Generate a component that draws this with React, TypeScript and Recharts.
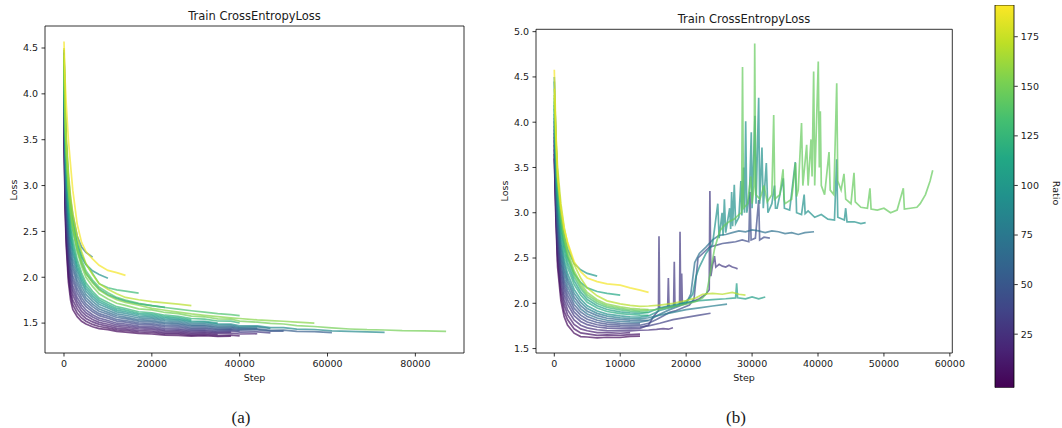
import { LineChart, Line, XAxis, YAxis, ReferenceArea, BarChart, Bar } from "recharts";

const FONT = "DejaVu Sans";

// viridis colormap stops and the colorbar range
const VIRIDIS = ["#440154", "#482475", "#414487", "#355f8d", "#2a788e", "#21918c", "#22a884", "#44bf70", "#7ad151", "#bddf26", "#fde725"];
const RATIO_MIN = -2;
const RATIO_MAX = 191;
const CBAR_TICKS = [25, 50, 75, 100, 125, 150, 175];

// ---- panel (a) ----
const STEPS_A = [0, 250, 500, 1000, 1500, 2000, 3000, 4000, 5000, 6500, 8000, 10000, 12000, 14000, 17000, 20000, 23000, 26000, 29000, 32000, 35000, 38000, 40000, 44000, 47000, 50000, 53000, 57000, 61000, 65000, 69000, 73000, 77000, 82000, 87000];
const RATIO_A = [2, 7, 12, 17, 23, 30, 38, 46, 55, 64, 74, 80, 88, 96, 100, 104, 112, 124, 128, 136, 150, 156, 170, 188];
const LOSS_A = [
  [3.62, 2.75, 2.35, 1.95, 1.75, 1.65, 1.57, 1.52, 1.49, 1.46, 1.44, 1.428, 1.41, 1.402, 1.388, 1.381, 1.368, 1.366, 1.358, 1.362, 1.354, 1.357],
  [3.66, 2.81, 2.41, 2.01, 1.81, 1.7, 1.61, 1.556, 1.521, 1.486, 1.463, 1.448, 1.426, 1.421, 1.403, 1.399, 1.382, 1.383, 1.37, 1.375, 1.364, 1.369, 1.361],
  [3.71, 2.86, 2.48, 2.07, 1.86, 1.75, 1.655, 1.592, 1.551, 1.513, 1.486, 1.468, 1.443, 1.438, 1.418, 1.414, 1.397, 1.396, 1.383, 1.388, 1.376],
  [3.75, 2.92, 2.54, 2.13, 1.92, 1.81, 1.7, 1.628, 1.582, 1.539, 1.508, 1.488, 1.462, 1.455, 1.436, 1.43, 1.412, 1.41, 1.397, 1.4, 1.387, 1.391, 1.381, 1.384],
  [3.8, 2.98, 2.6, 2.19, 1.98, 1.86, 1.74, 1.664, 1.612, 1.566, 1.531, 1.509, 1.48, 1.473, 1.451, 1.446, 1.427, 1.424, 1.41, 1.412, 1.399, 1.402],
  [3.84, 3.04, 2.67, 2.25, 2.04, 1.91, 1.78, 1.7, 1.643, 1.592, 1.554, 1.529, 1.499, 1.49, 1.467, 1.462, 1.441, 1.438, 1.423, 1.425, 1.41, 1.414, 1.402, 1.404, 1.393],
  [3.89, 3.1, 2.74, 2.32, 2.1, 1.97, 1.83, 1.742, 1.679, 1.623, 1.581, 1.553, 1.521, 1.51, 1.486, 1.48, 1.459, 1.455, 1.438, 1.44, 1.424, 1.426, 1.414],
  [3.93, 3.16, 2.8, 2.38, 2.16, 2.02, 1.875, 1.778, 1.709, 1.649, 1.603, 1.573, 1.539, 1.528, 1.502, 1.496, 1.474, 1.47, 1.451, 1.452, 1.435, 1.438, 1.424, 1.426, 1.412, 1.413],
  [3.99, 3.23, 2.88, 2.45, 2.23, 2.09, 1.925, 1.82, 1.745, 1.68, 1.63, 1.597, 1.561, 1.548, 1.521, 1.514, 1.491, 1.486, 1.466, 1.467, 1.449, 1.451, 1.435, 1.437, 1.421, 1.423, 1.409, 1.408, 1.396],
  [4.03, 3.28, 2.94, 2.51, 2.28, 2.14, 1.97, 1.856, 1.776, 1.706, 1.653, 1.617, 1.58, 1.566, 1.537, 1.53, 1.506, 1.5, 1.479, 1.478, 1.46, 1.462, 1.446, 1.446],
  [4.08, 3.35, 3.01, 2.58, 2.35, 2.2, 2.02, 1.898, 1.811, 1.737, 1.679, 1.64, 1.601, 1.586, 1.556, 1.548, 1.524, 1.516, 1.495, 1.493, 1.474, 1.475, 1.457, 1.458, 1.441],
  [4.48, 3.85, 3.5, 3.1, 2.85, 2.68, 2.45, 2.33, 2.27, 2.22],
  [4.13, 3.42, 3.09, 2.65, 2.42, 2.26, 2.07, 1.94, 1.847, 1.768, 1.706, 1.664, 1.623, 1.606, 1.575, 1.566, 1.541, 1.533, 1.51, 1.507, 1.488, 1.488, 1.469, 1.469, 1.451, 1.451, 1.434, 1.43, 1.416, 1.41, 1.404, 1.398],
  [4.45, 3.8, 3.45, 3.02, 2.76, 2.58, 2.36, 2.22, 2.14, 2.07, 2.03, 1.99],
  [4.18, 3.47, 3.15, 2.71, 2.47, 2.31, 2.11, 1.976, 1.878, 1.794, 1.729, 1.684, 1.642, 1.624, 1.591, 1.582, 1.556, 1.547, 1.523, 1.519, 1.5],
  [4.3, 3.65, 3.3, 2.92, 2.68, 2.52, 2.3, 2.15, 2.04, 1.95, 1.87, 1.81, 1.77, 1.74, 1.71, 1.69, 1.672],
  [4.22, 3.53, 3.21, 2.77, 2.53, 2.36, 2.15, 2.012, 1.908, 1.821, 1.752, 1.704, 1.66, 1.641, 1.607, 1.597, 1.571, 1.561, 1.536],
  [4.26, 3.59, 3.27, 2.83, 2.59, 2.42, 2.195, 2.048, 1.939, 1.847, 1.774, 1.724, 1.679, 1.659, 1.624, 1.613, 1.586, 1.575, 1.55, 1.543, 1.523, 1.521, 1.501],
  [4.4, 3.8, 3.45, 3.05, 2.8, 2.63, 2.4, 2.25, 2.14, 2.04, 1.93, 1.885, 1.862, 1.848, 1.826],
  [4.4, 3.78, 3.42, 3.0, 2.76, 2.58, 2.34, 2.19, 2.07, 1.97, 1.89, 1.83, 1.78, 1.75, 1.715, 1.69, 1.67, 1.652, 1.635, 1.62, 1.604, 1.593, 1.582],
  [4.35, 3.7, 3.35, 2.95, 2.7, 2.52, 2.28, 2.12, 2.0, 1.9, 1.82, 1.764, 1.716, 1.694, 1.656, 1.644, 1.616, 1.604, 1.576, 1.569, 1.546, 1.543, 1.521, 1.51, 1.497, 1.49, 1.472, 1.463, 1.448, 1.436, 1.428, 1.425, 1.418, 1.416, 1.41],
  [4.42, 3.75, 3.4, 2.98, 2.74, 2.56, 2.32, 2.16, 2.04, 1.94, 1.86, 1.8, 1.755, 1.726, 1.695, 1.66, 1.64, 1.62, 1.6, 1.585, 1.57, 1.558, 1.55, 1.535, 1.527, 1.52, 1.51, 1.5],
  [4.5, 3.9, 3.55, 3.15, 2.88, 2.7, 2.45, 2.28, 2.15, 2.03, 1.93, 1.87, 1.82, 1.78, 1.755, 1.735, 1.72, 1.706, 1.69],
  [4.57, 4.15, 3.9, 3.5, 3.22, 2.95, 2.58, 2.38, 2.28, 2.2, 2.13, 2.075, 2.05, 2.02],
];

// ---- panel (b) ----
const STEPS_B = [0, 250, 500, 1000, 1500, 2000, 3000, 4000, 5000, 6500, 8000, 10000, 11500, 13000, 14300];
const RATIO_B = [2, 8, 14, 24, 30, 36, 42, 50, 62, 70, 80, 95, 100, 105, 112, 118, 130, 145, 155, 170, 188];
const LOSS_B = [
  [3.6, 2.9, 2.4, 2.03, 1.85, 1.76, 1.67, 1.632, 1.628, 1.618, 1.625, 1.622, 1.634, 1.638],
  [3.65, 2.96, 2.47, 2.1, 1.91, 1.82, 1.718, 1.673, 1.662, 1.646, 1.651, 1.645, 1.655, 1.66],
  [3.7, 3.02, 2.54, 2.17, 1.98, 1.875, 1.767, 1.717, 1.697, 1.676, 1.677, 1.669, 1.676],
  [3.75, 3.08, 2.61, 2.23, 2.04, 1.93, 1.815, 1.758, 1.729, 1.708, 1.699, 1.695, 1.696, 1.702],
  [3.8, 3.14, 2.68, 2.3, 2.1, 1.99, 1.863, 1.799, 1.764, 1.738, 1.725, 1.719, 1.718, 1.723],
  [3.84, 3.19, 2.74, 2.36, 2.16, 2.04, 1.905, 1.834, 1.793, 1.763, 1.747, 1.739, 1.737, 1.74],
  [3.88, 3.24, 2.8, 2.42, 2.21, 2.09, 1.946, 1.869, 1.823, 1.788, 1.769, 1.759, 1.756, 1.758],
  [3.92, 3.29, 2.86, 2.48, 2.26, 2.14, 1.987, 1.904, 1.853, 1.813, 1.791, 1.779, 1.775, 1.776],
  [4.01, 3.39, 2.98, 2.59, 2.37, 2.24, 2.07, 1.974, 1.912, 1.864, 1.835, 1.819, 1.813, 1.811, 1.812],
  [3.96, 3.34, 2.92, 2.53, 2.32, 2.19, 2.029, 1.939, 1.882, 1.838, 1.813, 1.799, 1.794, 1.793],
  [4.05, 3.44, 3.04, 2.65, 2.43, 2.28, 2.112, 2.009, 1.942, 1.889, 1.858, 1.839, 1.832, 1.829],
  [4.09, 3.5, 3.1, 2.71, 2.48, 2.33, 2.153, 2.045, 1.972, 1.914, 1.88, 1.86, 1.85, 1.847],
  [4.5, 3.8, 3.4, 3.0, 2.75, 2.6, 2.44, 2.37, 2.33, 2.3],
  [4.19, 3.61, 3.24, 2.84, 2.61, 2.45, 2.25, 2.126, 2.041, 1.973, 1.931, 1.906, 1.895, 1.888],
  [4.45, 3.75, 3.35, 2.92, 2.68, 2.52, 2.33, 2.23, 2.17, 2.13, 2.11, 2.09],
  [4.15, 3.56, 3.18, 2.79, 2.55, 2.4, 2.208, 2.091, 2.011, 1.948, 1.909, 1.886, 1.876, 1.87, 1.868],
  [4.23, 3.67, 3.3, 2.9, 2.66, 2.5, 2.291, 2.162, 2.071, 1.998, 1.953, 1.927, 1.914, 1.906, 1.902],
  [4.27, 3.71, 3.35, 2.95, 2.71, 2.54, 2.326, 2.191, 2.095, 2.019, 1.972, 1.943, 1.929, 1.92],
  [4.3, 3.75, 3.4, 3.0, 2.75, 2.58, 2.36, 2.22, 2.12, 2.04, 1.99, 1.96, 1.945, 1.935, 1.93],
  [4.37, 3.84, 3.5, 3.1, 2.84, 2.66, 2.429, 2.279, 2.17, 2.082, 2.027, 1.994, 1.977, 1.965],
  [4.58, 3.9, 3.4, 3.05, 2.82, 2.68, 2.46, 2.35, 2.28, 2.24, 2.215, 2.2, 2.17, 2.145, 2.12],
];

// later [step, loss] points of the runs that kept training in (b)
const TAIL_R24 = [[14300, 1.705], [15500, 1.712], [16500, 1.72], [17300, 1.714], [18000, 1.73]];
const TAIL_R30 = [[14300, 1.76], [15000, 1.85], [15800, 1.92], [15880, 2.74], [15980, 1.94], [16500, 1.95], [17200, 1.96], [17300, 2.28], [17400, 1.96], [18100, 1.97], [18200, 2.46], [18300, 1.97], [19000, 1.98], [19070, 2.79], [19170, 1.99], [19320, 2.33], [19420, 1.99], [20000, 2.0], [21000, 2.02], [22000, 2.05], [23000, 2.1], [23500, 2.15], [23600, 3.24], [23750, 2.3], [24000, 2.42], [24300, 2.52], [24500, 2.4], [25000, 2.43], [25500, 2.41], [26000, 2.4], [26500, 2.42], [27000, 2.4], [27500, 2.39], [27800, 2.38]];
const TAIL_R36 = [[14300, 1.75], [16000, 1.78], [18000, 1.82], [20000, 1.845], [22000, 1.87], [23700, 1.89]];
const TAIL_R42 = [[14300, 1.78], [15500, 1.82], [16500, 1.86], [17500, 1.9], [18500, 1.92], [19500, 1.95], [20500, 1.98], [21200, 2.05], [21800, 2.5], [22500, 2.55], [23500, 2.62], [24500, 2.64], [25500, 2.66], [26500, 2.67], [27500, 2.68], [28500, 2.7], [29500, 2.68], [29680, 3.23], [29850, 2.7], [30500, 2.72], [31000, 3.14], [31150, 2.7], [31800, 2.73], [32700, 2.72]];
const TAIL_R70 = [[14300, 1.81], [16000, 1.88], [17500, 1.93], [19000, 1.97], [20000, 2.0], [20700, 2.1], [21300, 2.45], [22000, 2.55], [23000, 2.62], [24000, 2.7], [25000, 2.75], [26000, 2.76], [27000, 2.78], [28000, 2.8], [29000, 2.79], [30000, 2.81], [31000, 2.8], [32000, 2.78], [33000, 2.8], [34000, 2.79], [35000, 2.77], [36000, 2.78], [37000, 2.76], [38000, 2.78], [39400, 2.79]];
const TAIL_R80 = [[14300, 1.84], [16000, 1.87], [18000, 1.9], [20000, 1.93], [22000, 1.95], [24000, 1.97], [26200, 1.99]];
const TAIL_R95 = [[14300, 1.86], [16000, 1.92], [18000, 1.96], [19500, 2.0], [20500, 2.05], [21000, 2.1], [21500, 2.3], [22000, 2.4], [23000, 2.55], [24000, 2.65], [24800, 3.1], [25000, 2.72], [25450, 3.0], [25600, 2.75], [25800, 3.15], [26000, 2.78], [26600, 3.05], [26750, 2.82], [26900, 3.23], [27050, 2.85], [27300, 3.31], [27500, 2.88], [28000, 2.95], [28300, 3.35], [28450, 2.97], [28700, 3.5], [28850, 3.0], [29030, 4.01], [29200, 3.0], [29600, 3.2], [29880, 3.89], [30000, 3.05], [30440, 4.07], [30600, 3.1], [31000, 4.27], [31150, 3.1], [31500, 3.72], [31700, 3.05], [32160, 3.55], [32400, 3.0], [33000, 3.1], [33400, 3.3], [33550, 3.05], [33800, 3.05], [34730, 3.38], [34900, 3.05], [35700, 3.03], [36550, 3.56], [36750, 3.0], [37500, 2.98], [37900, 3.2], [38050, 2.99], [38500, 3.02], [39500, 2.95], [40500, 2.98], [41500, 2.93], [42500, 2.92], [42830, 3.59], [43000, 2.95], [44000, 2.92], [44200, 3.05], [44400, 2.9], [45500, 2.9], [46500, 2.88], [47230, 2.89]];
const TAIL_R105 = [[14300, 1.9], [16000, 1.95], [18000, 1.98], [20000, 2.01], [22000, 2.03], [24000, 2.04], [26000, 2.05], [27500, 2.06], [27660, 2.22], [27800, 2.06], [29000, 2.05], [30000, 2.07], [31000, 2.05], [32000, 2.07]];
const TAIL_R145 = [[14300, 1.925], [15500, 1.93], [17000, 1.95], [18500, 1.97], [20000, 1.99], [21500, 2.02], [22500, 2.06], [23100, 2.11], [23700, 2.35], [24300, 2.6], [25100, 2.8], [25800, 2.86], [26500, 2.9], [27300, 2.93], [28000, 2.98], [28400, 3.0], [28550, 4.61], [28700, 3.05], [29300, 3.1], [29800, 3.4], [30000, 3.1], [30300, 3.3], [30400, 4.87], [30550, 3.2], [31200, 3.15], [31800, 3.3], [32300, 3.12], [33000, 3.2], [33280, 4.08], [33450, 3.15], [34200, 3.2], [34700, 3.48], [34850, 3.15], [35000, 3.1], [36000, 3.15], [36600, 3.55], [36750, 3.18], [37000, 3.25], [37500, 3.99], [37700, 3.3], [38280, 3.75], [38500, 3.3], [38940, 3.81], [39100, 3.4], [39340, 4.56], [39500, 3.3], [40040, 4.67], [40200, 3.5], [40350, 4.12], [40500, 3.3], [41000, 3.2], [41670, 3.67], [41850, 3.25], [42400, 3.2], [42840, 4.43], [43000, 3.35], [43500, 3.25], [43940, 3.43], [44200, 3.15], [45000, 3.1], [45460, 3.44], [45650, 3.12], [46500, 3.06], [47500, 3.05], [47880, 3.27], [48050, 3.04], [49000, 3.03], [50000, 3.05], [51000, 3.0], [52000, 3.03], [52940, 3.27], [53100, 3.04], [54000, 3.05], [55000, 3.06], [55500, 3.1], [56300, 3.2], [57000, 3.35], [57400, 3.47]];
const TAIL_R170 = [[14300, 1.97], [16000, 1.98], [18000, 2.0], [20000, 2.03], [21500, 2.06], [22500, 2.1], [24000, 2.11], [25500, 2.1], [27000, 2.12], [28000, 2.1], [29000, 2.09]];
const TAILS_B = [[], [], [], TAIL_R24, TAIL_R30, TAIL_R36, TAIL_R42, [], [], TAIL_R70, TAIL_R80, TAIL_R95, [], TAIL_R105, [], [], [], TAIL_R145, [], TAIL_R170, []];

const X_TICKS_A = [0, 20000, 40000, 60000, 80000];
const Y_TICKS_A = [1.5, 2.0, 2.5, 3.0, 3.5, 4.0, 4.5];
const X_TICKS_B = [0, 10000, 20000, 30000, 40000, 50000, 60000];
const Y_TICKS_B = [1.5, 2.0, 2.5, 3.0, 3.5, 4.0, 4.5, 5.0];

function hexToRgb(h: string) {
  return [parseInt(h.slice(1, 3), 16), parseInt(h.slice(3, 5), 16), parseInt(h.slice(5, 7), 16)];
}

function viridis(r: number) {
  const t = Math.min(1, Math.max(0, (r - RATIO_MIN) / (RATIO_MAX - RATIO_MIN)));
  const p = t * (VIRIDIS.length - 1);
  const i = Math.min(VIRIDIS.length - 2, Math.floor(p));
  const f = p - i;
  const a = hexToRgb(VIRIDIS[i]);
  const b = hexToRgb(VIRIDIS[i + 1]);
  const c = a.map((v, k) => Math.round(v + (b[k] - v) * f));
  return `rgb(${c[0]},${c[1]},${c[2]})`;
}

function buildRuns(steps: number[], ratios: number[], losses: number[][], tails?: number[][][]) {
  return ratios.map((ratio, k) => {
    const head = losses[k].map((loss, i) => ({ step: steps[i], loss }));
    const tail = (tails ? tails[k] : []).map(([step, loss]) => ({ step, loss }));
    return { ratio, points: head.concat(tail) };
  });
}

const RUNS_A = buildRuns(STEPS_A, RATIO_A, LOSS_A);
const RUNS_B = buildRuns(STEPS_B, RATIO_B, LOSS_B, TAILS_B);

const tickStyle = { fontSize: 9.5, fill: "#1a1a1a", fontFamily: FONT };
const tickLine = { stroke: "#000", strokeWidth: 0.8 };

function LossPanel({ runs, width, margin, yAxisWidth, xDomain, yDomain, xTicks, yTicks }: any) {
  return (
    <LineChart width={width} height={400} margin={margin}>
      <XAxis type="number" dataKey="step" domain={xDomain} ticks={xTicks} interval={0} allowDataOverflow
        height={47} axisLine={false} tickLine={tickLine} tickSize={3.5} tickMargin={3.5} tick={tickStyle} />
      <YAxis type="number" dataKey="loss" domain={yDomain} ticks={yTicks} interval={0} allowDataOverflow
        width={yAxisWidth} axisLine={false} tickLine={tickLine} tickSize={3.5} tickMargin={3.5} tick={tickStyle}
        tickFormatter={(v: number) => v.toFixed(1)} />
      {runs.map((run: any, k: number) => (
        <Line key={k} data={run.points} dataKey="loss" type="linear" stroke={viridis(run.ratio)} strokeWidth={1.7}
          strokeOpacity={0.7} dot={false} activeDot={false} isAnimationActive={false} />
      ))}
      <ReferenceArea x1={xDomain[0]} x2={xDomain[1]} y1={yDomain[0]} y2={yDomain[1]} fill="none"
        stroke="#000" strokeWidth={0.8} ifOverflow="visible" />
    </LineChart>
  );
}

const textBase: any = { position: "absolute", fontFamily: FONT, color: "#1a1a1a", whiteSpace: "nowrap", lineHeight: 1 };

function Txt({ x, y, size, rotate = 0, family, children }: any) {
  return (
    <div style={{ ...textBase, left: x, top: y, fontSize: size, fontFamily: family || FONT,
      transform: `translate(-50%, -50%) rotate(${rotate}deg)` }}>
      {children}
    </div>
  );
}

export default function App() {
  return (
    <div style={{ position: "absolute", left: 0, top: 0, width: 1062, height: 428, background: "#fff", overflow: "hidden" }}>
      <div style={{ position: "absolute", left: 0, top: 0 }}>
        <LossPanel runs={RUNS_A} width={480} margin={{ top: 26, right: 16, bottom: 0, left: 0 }} yAxisWidth={45}
          xDomain={[-4326, 91075]} yDomain={[1.174, 4.74]} xTicks={X_TICKS_A} yTicks={Y_TICKS_A} />
      </div>
      <div style={{ position: "absolute", left: 480, top: 0 }}>
        <LossPanel runs={RUNS_B} width={490} margin={{ top: 29.3, right: 17.7, bottom: 0, left: 0 }} yAxisWidth={56}
          xDomain={[-2776, 60370]} yDomain={[1.451, 5.026]} xTicks={X_TICKS_B} yTicks={Y_TICKS_B} />
      </div>
      <div style={{ position: "absolute", left: 960, top: 0 }}>
        <BarChart width={102} height={428} data={[{ name: "ratio", range: [RATIO_MIN, RATIO_MAX] }]}
          margin={{ top: 5, right: 7.7, bottom: 40.3, left: 35 }} barCategoryGap={0}>
          <defs>
            <linearGradient id="viridisBar" x1="0" y1="1" x2="0" y2="0">
              {VIRIDIS.map((c, i) => (
                <stop key={i} offset={`${(i * 100) / (VIRIDIS.length - 1)}%`} stopColor={c} />
              ))}
            </linearGradient>
          </defs>
          <XAxis dataKey="name" hide />
          <YAxis orientation="right" type="number" domain={[RATIO_MIN, RATIO_MAX]} ticks={CBAR_TICKS} interval={0}
            allowDataOverflow width={40} axisLine={false} tickLine={tickLine} tickSize={3.5} tickMargin={3}
            tick={{ ...tickStyle, textAnchor: "start" }} />
          <Bar dataKey="range" fill="url(#viridisBar)" stroke="#000" strokeWidth={0.8} isAnimationActive={false} />
        </BarChart>
      </div>

      <Txt x={254.5} y={17} size={11.5}>Train CrossEntropyLoss</Txt>
      <Txt x={744} y={19.5} size={11.5}>Train CrossEntropyLoss</Txt>
      <Txt x={254.5} y={378} size={9.5}>Step</Txt>
      <Txt x={744} y={378} size={9.5}>Step</Txt>
      <Txt x={13.5} y={190} size={9.5} rotate={-90}>Loss</Txt>
      <Txt x={505} y={191} size={9.5} rotate={-90}>Loss</Txt>
      <Txt x={1055.5} y={193} size={9.5} rotate={90}>Ratio</Txt>
      <Txt x={241} y={417} size={17} family="Liberation Serif">(a)</Txt>
      <Txt x={736} y={417} size={17} family="Liberation Serif">(b)</Txt>
    </div>
  );
}
